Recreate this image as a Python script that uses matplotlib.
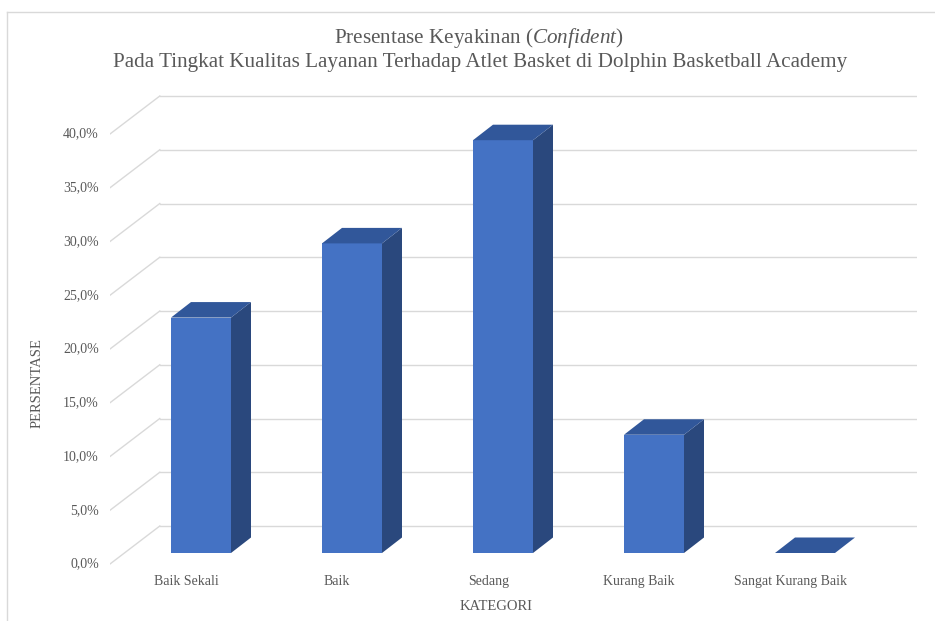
import matplotlib
matplotlib.use("Agg")
import matplotlib.pyplot as plt
from matplotlib.patches import Polygon
from matplotlib.lines import Line2D

# Data
categories = ["Baik Sekali", "Baik", "Sedang", "Kurang Baik", "Sangat Kurang Baik"]
percent = [21.9, 28.8, 38.4, 11.0, 0.0]
grid_values = [0, 5, 10, 15, 20, 25, 30, 35, 40]
grid_labels = ["0,0%", "5,0%", "10,0%", "15,0%", "20,0%", "25,0%", "30,0%", "35,0%", "40,0%"]

plt.rcParams["font.family"] = ["Liberation Serif", "DejaVu Serif"]
plt.rcParams["mathtext.fontset"] = "custom"
plt.rcParams["mathtext.rm"] = "Liberation Serif"
plt.rcParams["mathtext.it"] = "Liberation Serif:italic"

W, H, DPI = 935, 621, 100
fig = plt.figure(figsize=(W / DPI, H / DPI), dpi=DPI)
fig.patch.set_facecolor("white")

# axes placement (pixel geometry of the plot box)
ax_l, ax_r, ax_t, ax_b = 110, 917, 90, 565
ax = fig.add_axes([ax_l / W, 1 - ax_b / H, (ax_r - ax_l) / W, (ax_b - ax_t) / H])
px_per_cat = 151.0
px_per_pct = 10.75
cat0_px = 201.0
base_px = 553.0
ax.set_xlim((ax_l - cat0_px) / px_per_cat, (ax_r - cat0_px) / px_per_cat)
ax.set_ylim((base_px - ax_b) / px_per_pct, (base_px - ax_t) / px_per_pct)
ax.axis("off")

# oblique projection offsets (data units)
bar_dx, bar_dy = 20 / px_per_cat, 15.5 / px_per_pct          # bar depth
back_dx, back_dy = 35 / px_per_cat, 27 / px_per_pct          # back wall
front_dx, front_dy = -14.8 / px_per_cat, -11 / px_per_pct    # front edge
x_left = ax.get_xlim()[0]
x_right = ax.get_xlim()[1]
grid_col = "#D9D9D9"

# gridlines: diagonal on the side wall + horizontal on the back wall
for v in grid_values:
    xb = x_left + (back_dx - front_dx)
    ax.add_line(Line2D([x_left, xb], [v + front_dy, v + back_dy],
                       color=grid_col, lw=1.0, zorder=1))
    ax.add_line(Line2D([xb, x_right], [v + back_dy, v + back_dy],
                       color=grid_col, lw=1.0, zorder=1))

# bars
bw = 60 / px_per_cat
front_c, side_c, top_c = "#4472C4", "#2A487D", "#31579A"
xs = list(range(len(categories)))
ax.bar(xs, percent, width=bw, color=front_c, zorder=3, linewidth=0)
for x, v in zip(xs, percent):
    xr = x + bw / 2
    xl = x - bw / 2
    if v > 0:
        ax.add_patch(Polygon([(xr, 0), (xr + bar_dx, bar_dy), (xr + bar_dx, v + bar_dy), (xr, v)],
                             closed=True, facecolor=side_c, edgecolor="none", zorder=3))
    ax.add_patch(Polygon([(xl, v), (xl + bar_dx, v + bar_dy), (xr + bar_dx, v + bar_dy), (xr, v)],
                         closed=True, facecolor=top_c, edgecolor="none", zorder=4))

txt_col = "#595959"
# value axis labels
for v, lab in zip(grid_values, grid_labels):
    ax.annotate(lab, xy=(x_left, v + front_dy), xytext=(-8, 0), textcoords="offset points",
                ha="right", va="center", fontsize=10, color=txt_col, annotation_clip=False)

# category labels
for x, lab in zip(xs, categories):
    ax.annotate(lab, xy=(x + front_dx, front_dy), xytext=(0, -12.5), textcoords="offset points",
                ha="center", va="center", fontsize=10, color=txt_col, annotation_clip=False)

# axis titles
fig.text(37 / W, 1 - 383 / H, "PERSENTASE", rotation=90, ha="center", va="center",
         fontsize=10.5, color=txt_col)
fig.text(496 / W, 1 - 607 / H, "KATEGORI", ha="center", va="center",
         fontsize=10.5, color=txt_col)

# chart title
fig.text(479 / W, 1 - 38 / H, r"Presentase Keyakinan ($\mathit{Confident}$)",
         ha="center", va="center", fontsize=15.2, color=txt_col)
fig.text(480 / W, 1 - 63 / H,
         "Pada Tingkat Kualitas Layanan Terhadap Atlet Basket di Dolphin Basketball Academy",
         ha="center", va="center", fontsize=15.2, color=txt_col)

# chart area frame
fig.add_artist(Line2D([7 / W, 7 / W], [0, 1 - 12 / H], color="#D9D9D9", lw=1.0))
fig.add_artist(Line2D([7 / W, 1], [1 - 12 / H, 1 - 12 / H], color="#D9D9D9", lw=1.0))

fig.savefig("out.png", dpi=DPI, facecolor="white")
